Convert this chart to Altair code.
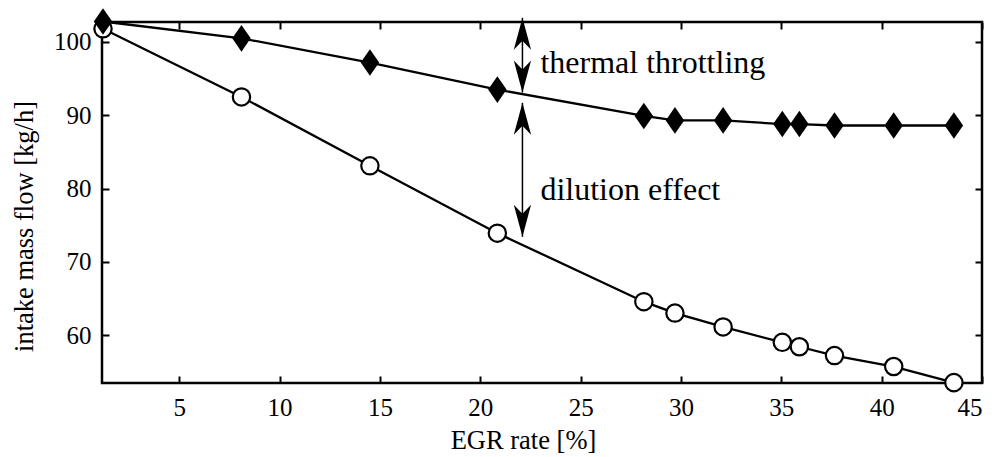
import altair as alt
import pandas as pd

# ---- data ----
egr_rate = [1.2, 8.1, 14.5, 20.85, 28.15, 29.7, 32.1, 35.05, 35.9, 37.65, 40.6, 43.6]
flow_thermal = [102.8, 100.5, 97.2, 93.5, 89.9, 89.3, 89.3, 88.8, 88.8, 88.6, 88.6, 88.6]
flow_dilution = [101.8, 92.5, 83.1, 73.9, 64.55, 63.0, 61.1, 59.0, 58.4, 57.2, 55.7, 53.5]

x_ticks = [5, 10, 15, 20, 25, 30, 35, 40, 45]
y_ticks = [60, 70, 80, 90, 100]

arrow_x = 22.1
arrow_segments = [  # (from, to) in kg/h
    (103.3, 93.1),   # thermal throttling
    (91.7, 73.4),    # dilution effect
]
labels = ["thermal throttling", "dilution effect"]
label_y = [95.8, 78.45]

X_DOMAIN = [1.15, 45.0]
Y_DOMAIN = [53.45, 102.73]
FONT = "Liberation Serif"

df_t = pd.DataFrame({"egr": egr_rate, "flow": flow_thermal})
df_d = pd.DataFrame({"egr": egr_rate, "flow": flow_dilution})
df_seg = pd.DataFrame({
    "egr": [arrow_x] * len(arrow_segments),
    "y1": [s[0] for s in arrow_segments],
    "y2": [s[1] for s in arrow_segments],
})
df_up = pd.DataFrame({"egr": [arrow_x] * 2, "flow": [s[0] for s in arrow_segments]})
df_down = pd.DataFrame({"egr": [arrow_x] * 2, "flow": [s[1] for s in arrow_segments]})
df_txt = pd.DataFrame({"egr": [arrow_x] * 2, "flow": label_y, "label": labels})

xs = alt.Scale(domain=X_DOMAIN, nice=False, zero=False)
ys = alt.Scale(domain=Y_DOMAIN, nice=False, zero=False)

ax_bottom = alt.Axis(
    orient="bottom", values=x_ticks, offset=-7, tickSize=7, labelPadding=12,
    title="EGR rate [%]", titleX=421, titleY=72, titleBaseline="alphabetic",
    titleAlign="center", titleAnchor="start",
)
ax_left = alt.Axis(
    orient="left", values=y_ticks, offset=-7, tickSize=7, labelPadding=11,
    title="intake mass flow [kg/h]", titleX=-77, titleY=204, titleAngle=270,
    titleBaseline="alphabetic", titleAlign="center", titleAnchor="start",
)
ax_top = alt.Axis(orient="top", values=x_ticks, offset=-7, tickSize=7, labels=False, title=None)
ax_right = alt.Axis(orient="right", values=y_ticks, offset=-7, tickSize=7, labels=False, title=None)


def X(axis=None, field="egr"):
    return alt.X(f"{field}:Q", scale=xs, axis=axis)


def Y(axis=None, field="flow"):
    return alt.Y(f"{field}:Q", scale=ys, axis=axis)


diamond = "M0,-1.3L0.9,0L0,1.3L-0.9,0Z"
head_up = "M0,0L0.27,1L0,0.72L-0.27,1Z"
head_down = "M0,0L0.27,-1L0,-0.72L-0.27,-1Z"

line_t = alt.Chart(df_t).mark_line(color="black", strokeWidth=2.3).encode(
    x=X(ax_bottom), y=Y(ax_left))
line_d = alt.Chart(df_d).mark_line(color="black", strokeWidth=2.3).encode(
    x=X(ax_top), y=Y(ax_right))
pts_t = alt.Chart(df_t).mark_point(
    shape=diamond, filled=True, color="black", size=420, opacity=1).encode(x=X(), y=Y())
pts_d = alt.Chart(df_d).mark_point(
    shape="circle", filled=True, fill="white", stroke="black", strokeWidth=2.2,
    size=300, opacity=1).encode(x=X(), y=Y())
seg = alt.Chart(df_seg).mark_rule(color="black", strokeWidth=1.5).encode(
    x=X(), y=Y(field="y1"), y2="y2:Q")
up = alt.Chart(df_up).mark_point(
    shape=head_up, filled=True, color="black", size=4096, opacity=1).encode(x=X(), y=Y())
down = alt.Chart(df_down).mark_point(
    shape=head_down, filled=True, color="black", size=4096, opacity=1).encode(x=X(), y=Y())
txt = alt.Chart(df_txt).mark_text(
    align="left", baseline="alphabetic", dx=18, font=FONT, fontSize=32, color="black").encode(
    x=X(), y=Y(), text="label:N")

chart = alt.layer(line_t, line_d, seg, up, down, pts_d, pts_t, txt).resolve_axis(
    x="independent", y="independent"
).properties(
    width=880, height=361,
    autosize=alt.AutoSizeParams(type="none"),
    padding={"left": 102, "top": 22, "right": 18, "bottom": 74},
    background="white",
).configure_view(
    stroke="black", strokeWidth=2.5
).configure_axis(
    domain=False, grid=False, tickColor="black", tickWidth=2,
    labelFont=FONT, labelFontSize=25, labelColor="black",
    titleFont=FONT, titleFontSize=26.5, titleColor="black", titleFontWeight="normal",
)

chart.save("out.html", embed_options={"renderer": "svg", "actions": False})
